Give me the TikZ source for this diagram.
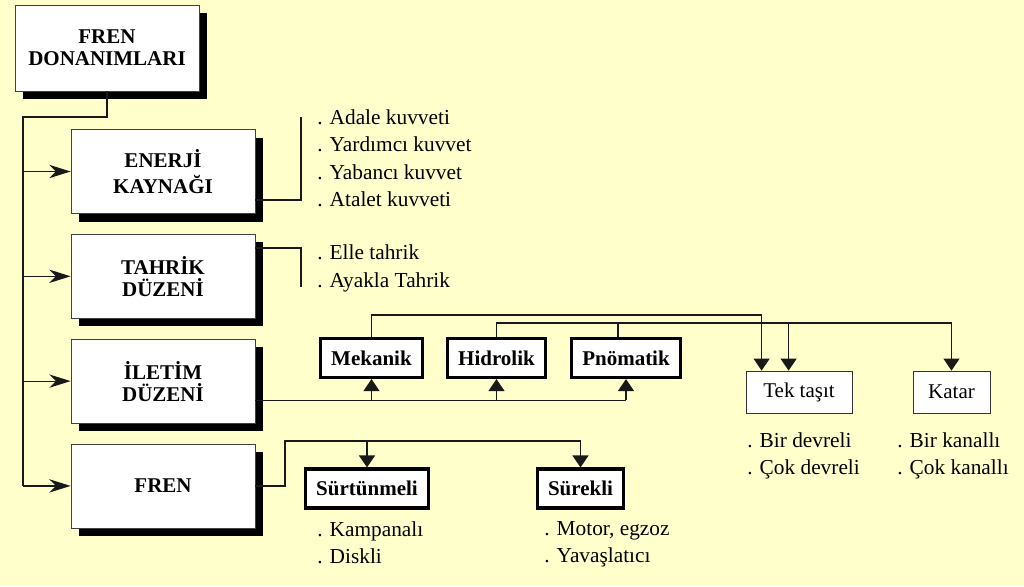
\documentclass[tikz,border=0pt]{standalone}
\usepackage{fontspec}
\setmainfont{Liberation Serif}
\usetikzlibrary{arrows.meta,positioning,calc,shadows}
\definecolor{paper}{HTML}{FFFFCC}

\begin{document}
\begin{tikzpicture}[x=0.75pt,y=-0.75pt,font=\fontsize{15.75}{16.5}\selectfont,
  conn/.style={draw=black!90,line width=0.9pt},
  stl/.style={conn,-{Stealth[length=16pt,width=10pt,inset=5pt]}},
  tri/.style={conn,-{Triangle[length=9pt,width=12pt]}},
  mainbox/.style={draw=black!75,line width=0.6pt,fill=white,align=center,font=\fontsize{15.75}{16.5}\selectfont\bfseries,
    minimum width=138pt,minimum height=63pt,drop shadow={shadow xshift=6pt,shadow yshift=-6pt,opacity=1,fill=black}},
  subbox/.style={draw=black,line width=2.6pt,fill=white,font=\fontsize{15.75}{16.5}\selectfont\bfseries,inner xsep=8pt,minimum height=29pt},
  plainbox/.style={draw=black!80,line width=0.6pt,fill=white,minimum height=31.5pt},
  items/.style={anchor=north west,inner sep=0pt,align=left,font=\fontsize{16}{20.6}\selectfont}]
\path[use as bounding box,fill=paper] (0,0) rectangle (1024,586);
% left column
\node[mainbox,minimum height=64.5pt] (don) at (107,48) {FREN\\DONANIMLARI};
\node[mainbox] (enerji) at (163,171.5) {ENERJİ\\[3pt]KAYNAĞI};
\node[mainbox,below=15pt of enerji] (tahrik) {TAHRİK\\DÜZENİ};
\node[mainbox,below=15pt of tahrik] (iletim) {İLETİM\\DÜZENİ};
\node[mainbox,below=15pt of iletim] (fren) {FREN};
% lists
\node[items] (enerjilist) at (317,109) {. Adale kuvveti\\. Yardımcı kuvvet\\. Yabancı kuvvet\\. Atalet kuvveti};
\node[items] (tahriklist) at (317,244.7) {. Elle tahrik\\. Ayakla Tahrik};
\node[items] (surtlist) at (317,521) {. Kampanalı\\. Diskli};
\node[items] (sureklilist) at (544,521) {. Motor, egzoz\\. Yavaşlatıcı};
\node[items] (teklist) at (747,432.4) {. Bir devreli\\. Çok devreli};
\node[items] (katarlist) at (897,432.4) {. Bir kanallı\\. Çok kanallı};
% sub boxes
\node[subbox] (mekanik) at (371.5,358) {Mekanik};
\node[subbox] (hidrolik) at (496.5,358) {Hidrolik};
\node[subbox] (pnomatik) at (626,358) {Pnömatik};
\node[subbox] (surtunmeli) at (367,488.5) {Sürtünmeli};
\node[subbox] (surekli) at (580.5,488.5) {Sürekli};
\node[plainbox,minimum width=79.5pt] (tektasit) at (799,392) {Tek taşıt};
\node[plainbox,minimum width=57.75pt] (katar) at (951.5,392) {Katar};
% trunk
\coordinate (trunk) at (23,117);
\draw[conn] (don.south) |- (trunk) -- (trunk |- fren.west);
\draw[stl] (trunk |- enerji.west) -- (enerji.west);
\draw[stl] (trunk |- tahrik.west) -- (tahrik.west);
\draw[stl] (trunk |- iletim.west) -- (iletim.west);
\draw[stl] (trunk |- fren.west) -- (fren.west);
% brackets
\coordinate (enerjiend) at (301,117);
\draw[conn] ($(enerji.south east)+(0,-14)$) -| (enerjiend);
\coordinate (tahrikend) at (301,287);
\draw[conn] ($(tahrik.north east)+(0,14)$) -| (tahrikend);
% iletim
\coordinate (iletimline) at ($(iletim.east)+(0,19)$);
\draw[conn] (iletimline) -- (iletimline -| pnomatik.south);
\draw[tri] (iletimline -| mekanik.south) -- (mekanik.south);
\draw[tri] (iletimline -| hidrolik.south) -- (hidrolik.south);
\draw[tri] (iletimline -| pnomatik.south) -- (pnomatik.south);
\coordinate (upper1) at (0,315);
\coordinate (upper2) at (0,323);
\coordinate (tek1) at ($(tektasit.north west)+(16,0)$);
\coordinate (tek2) at ($(tektasit.north west)+(43,0)$);
\coordinate (pn) at ($(pnomatik.north)+(-8,0)$);
\draw[tri] (mekanik.north) |- (tek1 |- upper1) -- (tek1);
\draw[tri] (hidrolik.north) |- (katar.north |- upper2) -- (katar.north);
\draw[conn] (pn) -- (pn |- upper2);
\draw[tri] (tek2 |- upper2) -- (tek2);
% fren
\coordinate (frenbend) at (285,441);
\draw[tri] (fren.east) -| (frenbend) -| (surekli.north);
\draw[tri] (surtunmeli.north |- frenbend) -- (surtunmeli.north);
\end{tikzpicture}
\end{document}
